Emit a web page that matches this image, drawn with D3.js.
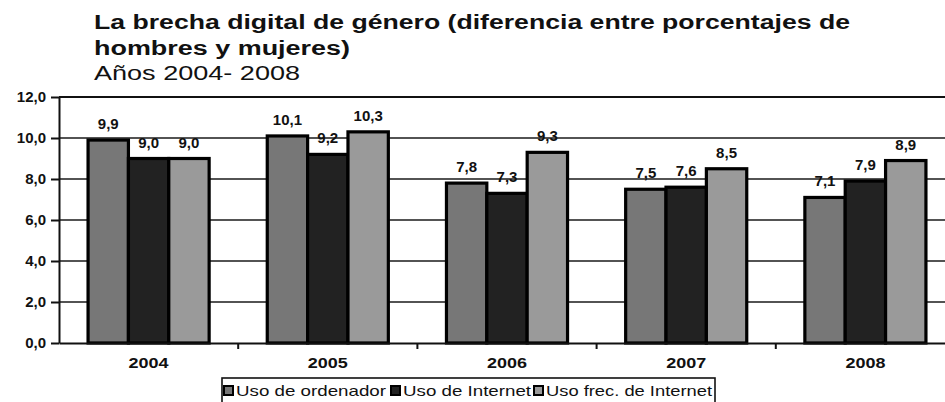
<!DOCTYPE html>
<html lang="es">
<head>
  <meta charset="UTF-8">
  <title>La brecha digital de género</title>
  <script src="https://d3js.org/d3.v7.min.js"></script>
  <style>
    body { margin: 0; background: #fff; }
    svg { display: block; }
    svg text { font-family: "Liberation Sans", Arial, sans-serif; }
    .grid line { stroke: #1a1a1a; stroke-width: 1.6px; }
    .axis text { font-size: 15px; font-weight: bold; fill: #111; }
    .axis path, .axis line { stroke: #111; stroke-width: 2px; }
    .val { font-size: 15px; font-weight: bold; fill: #111; text-anchor: middle; }
    .title { font-size: 20px; fill: #111; }
    .legend text { font-size: 15px; fill: #111; }
  </style>
</head>
<body>
  <script>
    const width = 945, height = 402;

    // data
    const years = ["2004", "2005", "2006", "2007", "2008"];
    const series = ["Uso de ordenador", "Uso de Internet", "Uso frec. de Internet"];
    const usoOrdenador = [9.9, 10.1, 7.8, 7.5, 7.1];
    const usoInternet = [9.0, 9.2, 7.3, 7.6, 7.9];
    const usoFrecInternet = [9.0, 10.3, 9.3, 8.5, 8.9];
    const yTicks = [0, 2, 4, 6, 8, 10, 12];

    const values = [usoOrdenador, usoInternet, usoFrecInternet];
    const colors = ["#777777", "#222222", "#9a9a9a"];

    const margin = { left: 59, top: 97, bottom: 59 };
    const plotRight = 955;

    const svg = d3.select("body").append("svg")
      .attr("width", width)
      .attr("height", height);

    const x = d3.scaleBand().domain(years).range([margin.left, plotRight]).padding(0);
    const xs = d3.scaleBand().domain(series).range([0, x.bandwidth()])
      .paddingInner(0).paddingOuter(0.72);
    const y = d3.scaleLinear().domain([0, 12]).range([height - margin.bottom, margin.top]);

    const fmt = v => d3.format(".1f")(v).replace(".", ",");

    // gridlines
    svg.append("g").attr("class", "grid")
      .selectAll("line").data(yTicks.filter(t => t > 0)).join("line")
      .attr("x1", margin.left).attr("x2", plotRight)
      .attr("y1", d => y(d)).attr("y2", d => y(d));

    // bars
    const groups = svg.append("g").selectAll("g").data(years).join("g")
      .attr("transform", d => `translate(${x(d)},0)`);

    const rows = years.map((yr, i) => series.map((s, j) => ({ yr, s, j, v: values[j][i] })));

    groups.selectAll("rect").data((d, i) => rows[i]).join("rect")
      .attr("x", d => xs(d.s))
      .attr("y", d => y(d.v))
      .attr("width", xs.bandwidth())
      .attr("height", d => y(0) - y(d.v))
      .attr("fill", d => colors[d.j])
      .attr("stroke", "#000")
      .attr("stroke-width", 3.2);

    groups.selectAll("text").data((d, i) => rows[i]).join("text")
      .attr("class", "val")
      .attr("x", d => xs(d.s) + xs.bandwidth() / 2)
      .attr("y", d => y(d.v) - 11)
      .text(d => fmt(d.v));

    // y axis
    svg.append("g").attr("class", "axis")
      .attr("transform", `translate(${margin.left},0)`)
      .call(d3.axisLeft(y).tickValues(yTicks).tickFormat(fmt).tickSize(8).tickSizeOuter(0).tickPadding(5))
      .attr("font-family", null);

    // x axis
    const xAxis = svg.append("g").attr("class", "axis")
      .attr("transform", `translate(0,${y(0)})`)
      .call(d3.axisBottom(x).tickSize(0).tickSizeOuter(0).tickPadding(14))
      .attr("font-family", null);
    xAxis.selectAll(".tick text")
      .attr("textLength", 40)
      .attr("lengthAdjust", "spacingAndGlyphs");

    // category separators below axis
    svg.append("g").attr("class", "axis")
      .selectAll("line").data(years.slice(1)).join("line")
      .attr("x1", d => x(d)).attr("x2", d => x(d))
      .attr("y1", y(0)).attr("y2", y(0) + 6)
      .attr("stroke", "#111").attr("stroke-width", 2);

    // top border of plot
    svg.append("line")
      .attr("x1", margin.left).attr("x2", plotRight)
      .attr("y1", y(12)).attr("y2", y(12))
      .attr("stroke", "#111").attr("stroke-width", 2);

    // title
    const titleLines = [
      { t: "La brecha digital de género (diferencia entre porcentajes de", w: "bold", len: 756 },
      { t: "hombres y mujeres)", w: "bold", len: 256 },
      { t: "Años 2004- 2008", w: "normal", len: 206 }
    ];
    svg.selectAll(".title").data(titleLines).join("text")
      .attr("class", "title")
      .attr("x", 94)
      .attr("y", (d, i) => 29 + i * 25.5)
      .attr("font-weight", d => d.w)
      .attr("textLength", d => d.len)
      .attr("lengthAdjust", "spacingAndGlyphs")
      .text(d => d.t);

    // legend
    const legend = svg.append("g").attr("class", "legend");
    legend.append("rect")
      .attr("x", 222).attr("y", 378).attr("width", 493).attr("height", 30)
      .attr("fill", "#fff").attr("stroke", "#111").attr("stroke-width", 1.6);
    const legX = [223, 390, 533];
    const legLen = [150, 128, 166];
    const li = legend.selectAll("g.item").data(series).join("g").attr("class", "item")
      .attr("transform", (d, i) => `translate(${legX[i]},385)`);
    li.append("rect")
      .attr("x", 1).attr("y", 1).attr("width", 9).attr("height", 9)
      .attr("fill", (d, i) => colors[i]).attr("stroke", "#000").attr("stroke-width", 2);
    li.append("text")
      .attr("x", 13).attr("y", 11)
      .attr("textLength", (d, i) => legLen[i])
      .attr("lengthAdjust", "spacingAndGlyphs")
      .text(d => d);
  </script>
</body>
</html>
